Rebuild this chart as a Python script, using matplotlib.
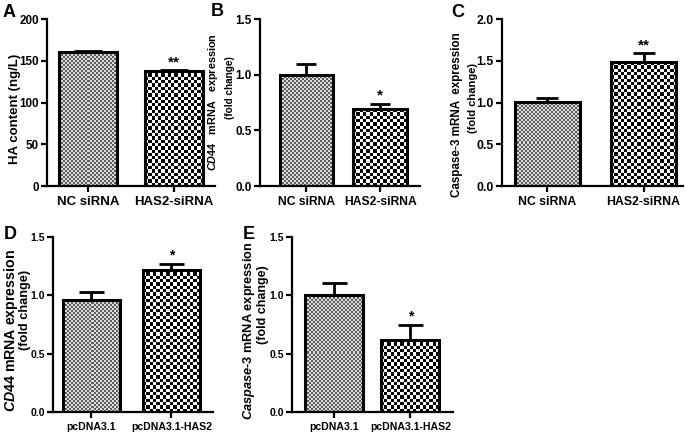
import numpy as np
import matplotlib
matplotlib.use("Agg")
import matplotlib.pyplot as plt
from matplotlib import font_manager
from matplotlib.colors import ListedColormap

plt.rcParams['font.family'] = ['Liberation Sans', 'DejaVu Sans']
plt.rcParams['font.weight'] = 'bold'
plt.rcParams['mathtext.fontset'] = 'custom'
plt.rcParams['mathtext.it'] = 'Liberation Sans:italic:bold'
plt.rcParams['mathtext.rm'] = 'Liberation Sans:bold'

# narrow face for the tick numbers, if there is one
installed = {f.name for f in font_manager.fontManager.ttflist}
if 'Liberation Sans Narrow' in installed:
    NARROW = ['Liberation Sans Narrow']
    nscale = 1.0
else:
    NARROW = ['Liberation Sans']
    nscale = 0.88

# panel data
groups_si = ["NC siRNA", "HAS2-siRNA"]
groups_pc = ["pcDNA3.1", "pcDNA3.1-HAS2"]

ha_vals = [160, 138]
ha_err = [1.5, 0.8]
cd44_si_vals = [1.00, 0.69]
cd44_si_err = [0.10, 0.05]
casp_si_vals = [1.01, 1.48]
casp_si_err = [0.04, 0.11]
cd44_pc_vals = [0.96, 1.22]
cd44_pc_err = [0.07, 0.05]
casp_pc_vals = [1.00, 0.62]
casp_pc_err = [0.11, 0.13]

stars_a = ["", "**"]
stars_b = ["", "*"]
stars_c = ["", "**"]
stars_d = ["", "*"]
stars_e = ["", "*"]

W, H = 685, 433
fig = plt.figure(figsize=(W / 100, H / 100), dpi=100)


def ax_px(l, r, t, b):
    return fig.add_axes([l / W, (H - b) / H, (r - l) / W, (b - t) / H])


def fill_checker(ax, bar, cell, c1, c2):
    x0, y0 = bar.get_x(), bar.get_y()
    w, h = bar.get_width(), bar.get_height()
    p0 = ax.transData.transform((x0, y0))
    p1 = ax.transData.transform((x0 + w, y0 + h))
    nx = max(1, int(round((p1[0] - p0[0]) / cell)))
    ny = max(1, int(round((p1[1] - p0[1]) / cell)))
    grid = np.add.outer(np.arange(ny), np.arange(nx)) % 2
    im = ax.imshow(grid, extent=(x0, x0 + w, y0, y0 + h), origin='lower',
                   cmap=ListedColormap([c1, c2]), interpolation='nearest',
                   aspect='auto', zorder=1.5)
    im.set_clip_path(bar)


def panel(ax, labels, vals, errs, stars, ymax, ystep, xlim, width,
          tick_size, xt_size, xt_narrow, star_size, capsize):
    x = np.arange(len(vals))
    ax.set_ylim(0, ymax)
    ax.set_xlim(*xlim)
    bars = ax.bar(x, vals, width=width, facecolor='none',
                  edgecolor='black', linewidth=2.2, zorder=3)
    fill_checker(ax, bars[0], 2.0, '#5e5e5e', '#dcdcdc')
    fill_checker(ax, bars[1], 3.3, 'black', 'white')
    ax.errorbar(x, vals, yerr=[[0] * len(vals), errs], fmt='none',
                ecolor='black', elinewidth=2, capsize=capsize,
                capthick=2, zorder=1)
    for xi, v, e, s in zip(x, vals, errs, stars):
        if s:
            ax.text(xi, v + e + ymax * 0.005, s, ha='center', va='bottom',
                    fontsize=star_size, fontweight='bold')
    ax.set_ylim(0, ymax)
    ax.set_xlim(*xlim)
    ticks = np.arange(0, ymax + ystep / 2, ystep)
    ax.set_yticks(ticks)
    if ystep < 1:
        ax.set_yticklabels(["%.1f" % t for t in ticks])
    else:
        ax.set_yticklabels(["%d" % t for t in ticks])
    ax.set_xticks(x)
    if xt_narrow:
        ax.set_xticklabels(labels, fontsize=xt_size * nscale, fontweight='bold', family=NARROW)
    else:
        ax.set_xticklabels(labels, fontsize=xt_size, fontweight='bold')
    for sp in ['top', 'right']:
        ax.spines[sp].set_visible(False)
    for sp in ['left', 'bottom']:
        ax.spines[sp].set_linewidth(1.6)
    ax.tick_params(axis='y', width=1.6, length=4, pad=2)
    ax.tick_params(axis='x', width=1.6, length=4, pad=3)
    for t in ax.get_yticklabels():
        t.set_fontweight('bold')
        t.set_family(NARROW)
        t.set_fontsize(tick_size * nscale)


def ylab(text, px, py, size):
    fig.text(px / W, 1 - py / H, text, rotation=90, ha='center', va='center',
             fontsize=size, fontweight='bold')


axA = ax_px(47, 215, 19, 186)
panel(axA, groups_si, ha_vals, ha_err, stars_a, 200, 50, (-0.48, 1.48), 0.68,
      9.5, 9.5, False, 11, 10)
ylab("HA content (ng/L)", 15, 109, 9.5)

axB = ax_px(260, 420, 19, 186)
panel(axB, groups_si, cd44_si_vals, cd44_si_err, stars_b, 1.5, 0.5, (-0.63, 1.54), 0.73,
      9.5, 8.7, False, 11, 7)
ylab("$\\mathit{CD44}$   mRNA   expression", 213, 102, 7.8)
ylab("(fold change)", 230, 88, 7.2)

axC = ax_px(502, 683, 19, 186)
panel(axC, groups_si, casp_si_vals, casp_si_err, stars_c, 2.0, 0.5, (-0.47, 1.41), 0.68,
      10, 8.8, False, 11, 8)
ylab("Caspase-3 mRNA  expression", 457, 115, 8.4)
ylab("(fold change)", 473, 98, 8)

axD = ax_px(53, 213, 237, 412)
panel(axD, groups_pc, cd44_pc_vals, cd44_pc_err, stars_d, 1.5, 0.5, (-0.48, 1.52), 0.71,
      8.5, 8.6, True, 10, 9)
ylab("$\\mathit{CD44}$ mRNA expression", 11, 331, 10.2)
ylab("(fold change)", 25, 310, 9.2)

axE = ax_px(292, 453, 237, 412)
panel(axE, groups_pc, casp_pc_vals, casp_pc_err, stars_e, 1.5, 0.5, (-0.55, 1.56), 0.76,
      8.5, 8.6, True, 10, 9)
ylab("$\\mathit{Caspase}$-3 mRNA expression", 249, 331, 9.2)
ylab("(fold change)", 263, 305, 9)

for letter, px, py in [("A", 3, 4), ("B", 211, 3), ("C", 451, 4), ("D", 4, 226), ("E", 243, 226)]:
    fig.text(px / W, 1 - py / H, letter, fontsize=13, fontweight='bold', va='top', ha='left')

fig.savefig("out.png", dpi=100)
